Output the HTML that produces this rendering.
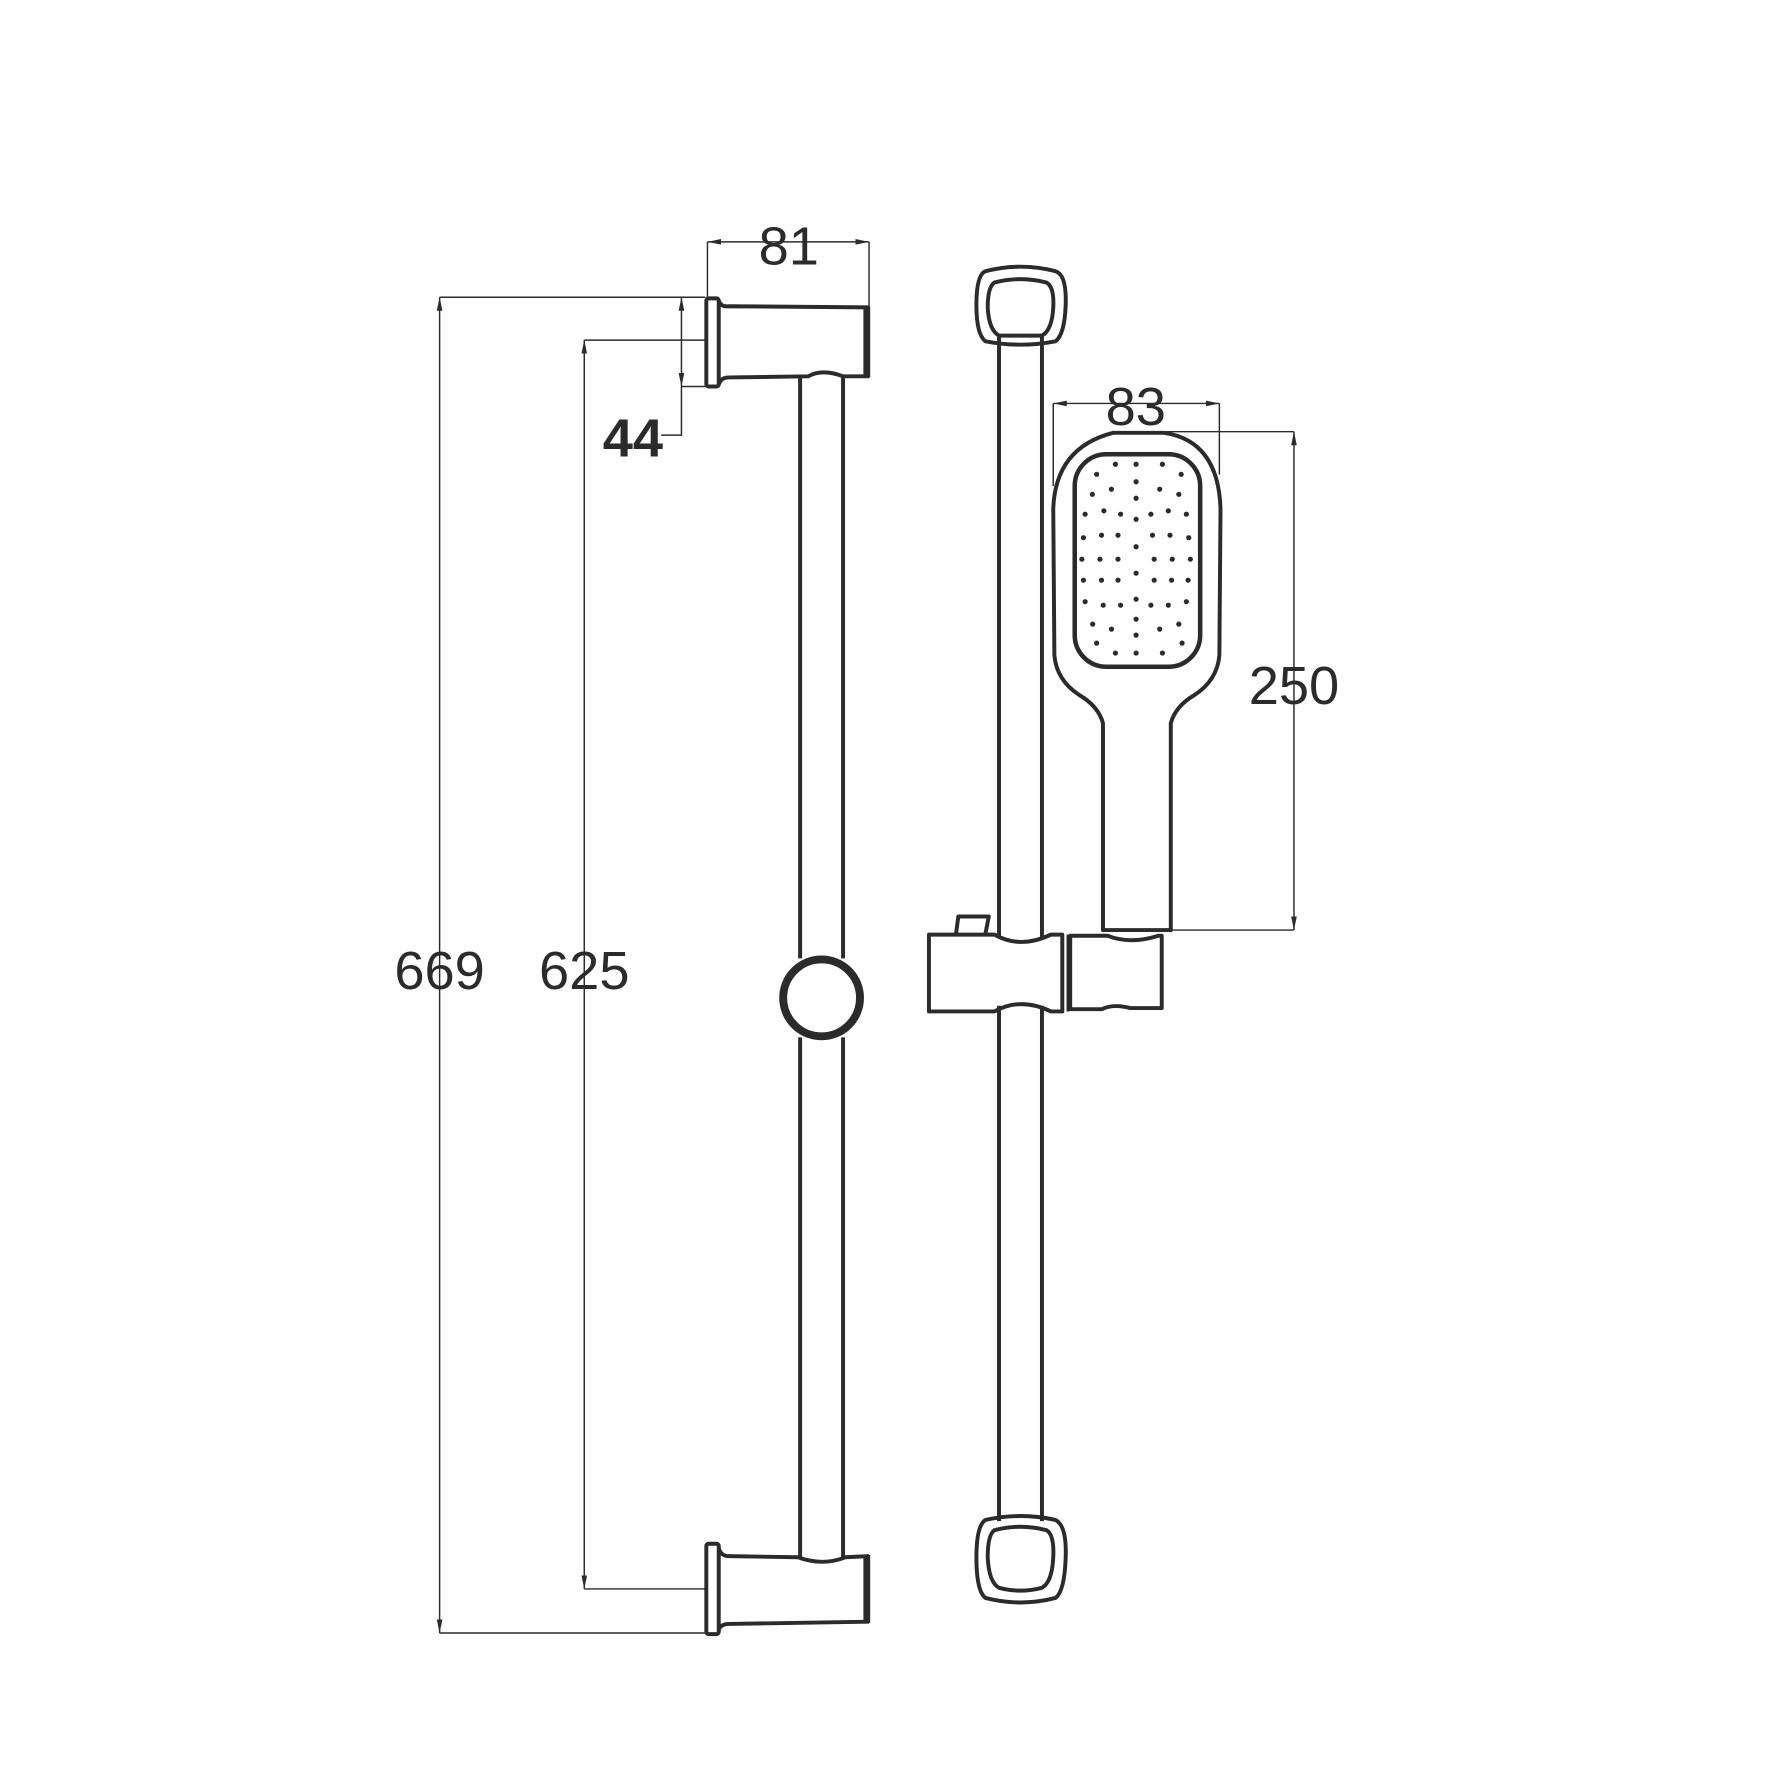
<!DOCTYPE html>
<html><head><style>html,body{margin:0;padding:0;background:#fff}svg{display:block}</style></head>
<body>
<svg width="1772" height="1772" viewBox="0 0 1568 1568" xmlns="http://www.w3.org/2000/svg">
<defs>
<marker id="a" viewBox="0 0 12 6" refX="12" refY="3" markerWidth="12" markerHeight="6" orient="auto-start-reverse" markerUnits="userSpaceOnUse"><path d="M12,3 L0,0.5 L0,5.5 Z" fill="#2b2b2b"/></marker>
</defs>
<g stroke="#2b2b2b" stroke-width="1.3" fill="none">
<line x1="389" y1="263" x2="389" y2="1445" marker-start="url(#a)" marker-end="url(#a)"/>
<line x1="389" y1="263" x2="624" y2="263"/>
<line x1="389" y1="1445" x2="624" y2="1445"/>
<line x1="517" y1="301" x2="517" y2="1406" marker-start="url(#a)" marker-end="url(#a)"/>
<line x1="517" y1="301" x2="624" y2="301"/>
<line x1="517" y1="1406" x2="624" y2="1406"/>
<line x1="603" y1="263" x2="603" y2="342" marker-start="url(#a)" marker-end="url(#a)"/>
<polyline points="603,342 603,385 585,385"/>
<line x1="603" y1="342" x2="624" y2="342"/>
<line x1="626" y1="214" x2="769" y2="214" marker-start="url(#a)" marker-end="url(#a)"/>
<line x1="626" y1="214" x2="626" y2="263"/>
<line x1="769" y1="214" x2="769" y2="271"/>
<line x1="932" y1="357" x2="1079" y2="357" marker-start="url(#a)" marker-end="url(#a)"/>
<line x1="932" y1="357" x2="932" y2="430"/>
<line x1="1079" y1="357" x2="1079" y2="420"/>
<line x1="1145" y1="382" x2="1145" y2="823" marker-start="url(#a)" marker-end="url(#a)"/>
<line x1="1030" y1="382" x2="1145" y2="382"/>
<line x1="1036" y1="823" x2="1145" y2="823"/>
</g>
<g stroke="#2b2b2b" stroke-width="3.5" fill="none" stroke-linejoin="round">
<rect x="625" y="264" width="11" height="78" rx="2"/>
<path d="M636,266 Q638,272 645,271 L769,272"/>
<path d="M636,340 Q638,334 645,334 L715,333 Q728,326 746,333 L769,333"/>
<line x1="767" y1="271" x2="767" y2="334" stroke-width="6"/>
<line x1="708" y1="334" x2="708" y2="848"/>
<line x1="746" y1="334" x2="746" y2="848"/>
<line x1="708" y1="918" x2="708" y2="1378"/>
<line x1="746" y1="918" x2="746" y2="1378"/>
<circle cx="727" cy="883" r="34" stroke-width="7"/>
<rect x="625" y="1366" width="11" height="80" rx="2"/>
<path d="M636,1370 Q638,1377 645,1377 L706,1378 Q728,1386 748,1378 L769,1377"/>
<path d="M636,1442 Q638,1437 645,1437 L769,1435"/>
<line x1="767" y1="1376" x2="767" y2="1436" stroke-width="6"/>
<path d="M872,240 Q903,232 934,240 Q944,243 943,270 Q942,296 934,302 Q903,308 872,302 Q864,296 864,270 Q864,243 872,240 Z"/>
<path d="M880,250 Q903,244 926,250 Q933,254 932,272 Q931,292 922,297 L884,297 Q875,292 874,272 Q874,254 880,250 Z"/>
<path d="M872,1345 Q903,1338 934,1345 Q944,1350 943,1378 Q942,1408 934,1414 Q903,1422 872,1414 Q864,1408 864,1378 Q864,1350 872,1345 Z"/>
<path d="M880,1354 Q903,1348 926,1354 Q933,1358 932,1378 Q931,1400 922,1405 Q903,1410 884,1405 Q875,1400 874,1378 Q874,1358 880,1354 Z"/>
<line x1="884" y1="298" x2="884" y2="830"/>
<line x1="922" y1="298" x2="922" y2="830"/>
<line x1="884" y1="890" x2="884" y2="1346"/>
<line x1="922" y1="890" x2="922" y2="1346"/>
<path d="M822,827 L880,827 Q903,840 930,827 L940,827 L940,895 L930,895 Q903,882 880,895 L822,895 Z"/>
<path d="M846,826 L848,811 L875,811 L872,826"/>
<line x1="945" y1="827" x2="945" y2="895" stroke-width="2.5"/>
<path d="M947,828 L980,828 Q1000,836 1025,828 L1028,828 L1028,892 L1000,892 Q985,888 975,893 L947,893 Z"/>
<path d="M976,823 L976,640 Q972,625 955,615 Q935,602 933,580 L932,450 Q934,396 985,383 L1030,383 Q1078,390 1080,450 L1079,580 Q1077,602 1057,615 Q1040,625 1036,640 L1036,823 Z"/>
<rect x="951" y="402" width="111" height="188" rx="28" stroke-width="4"/>
</g>
<g fill="#2b2b2b">
<circle cx="987" cy="410.8" r="2.3"/><circle cx="1005.3" cy="410.8" r="2.3"/><circle cx="1028.6" cy="410.8" r="2.3"/>
<circle cx="970.4" cy="419.7" r="2.3"/><circle cx="1045.2" cy="419.7" r="2.3"/>
<circle cx="1005.3" cy="426.3" r="2.3"/>
<circle cx="983.5" cy="432.9" r="2.3"/><circle cx="1026.2" cy="432.9" r="2.3"/>
<circle cx="966.6" cy="437.4" r="2.3"/><circle cx="1043.1" cy="437.4" r="2.3"/>
<circle cx="1005.3" cy="440.9" r="2.3"/>
<circle cx="976.8" cy="452" r="2.3"/><circle cx="1033.8" cy="452" r="2.3"/>
<circle cx="960.2" cy="455" r="2.3"/><circle cx="991.6" cy="455" r="2.3"/><circle cx="1018.4" cy="455" r="2.3"/><circle cx="1049.8" cy="455" r="2.3"/>
<circle cx="1005.3" cy="459.5" r="2.3"/>
<circle cx="974.7" cy="473.6" r="2.3"/><circle cx="989.3" cy="473.6" r="2.3"/><circle cx="1019.8" cy="473.6" r="2.3"/><circle cx="1035.3" cy="473.6" r="2.3"/>
<circle cx="958.7" cy="475.8" r="2.3"/><circle cx="1051.9" cy="475.8" r="2.3"/>
<circle cx="1005.3" cy="483.8" r="2.3"/>
<circle cx="957.3" cy="494.8" r="2.3"/><circle cx="973.3" cy="494.8" r="2.3"/><circle cx="989.3" cy="494.8" r="2.3"/><circle cx="1021.3" cy="494.8" r="2.3"/><circle cx="1037.3" cy="494.8" r="2.3"/><circle cx="1053.3" cy="494.8" r="2.3"/>
<circle cx="1005.3" cy="507.2" r="2.3"/>
<circle cx="958.7" cy="513.4" r="2.3"/><circle cx="974.7" cy="513.4" r="2.3"/><circle cx="989.3" cy="513.4" r="2.3"/><circle cx="1021.3" cy="513.4" r="2.3"/><circle cx="1036.7" cy="513.4" r="2.3"/><circle cx="1051.3" cy="513.4" r="2.3"/>
<circle cx="1005.3" cy="530.2" r="2.3"/>
<circle cx="960.2" cy="532.4" r="2.3"/><circle cx="1049.8" cy="532.4" r="2.3"/>
<circle cx="976.2" cy="535.5" r="2.3"/><circle cx="991.6" cy="535.5" r="2.3"/><circle cx="1018.4" cy="535.5" r="2.3"/><circle cx="1033.8" cy="535.5" r="2.3"/>
<circle cx="1005.3" cy="547.9" r="2.3"/>
<circle cx="966.9" cy="552.3" r="2.3"/><circle cx="1043.1" cy="552.3" r="2.3"/>
<circle cx="983.5" cy="556.7" r="2.3"/><circle cx="1026.2" cy="556.7" r="2.3"/>
<circle cx="1005.3" cy="562" r="2.3"/>
<circle cx="970.4" cy="569.1" r="2.3"/><circle cx="1046" cy="569.1" r="2.3"/>
<circle cx="987" cy="577.9" r="2.3"/><circle cx="1005.3" cy="577.9" r="2.3"/><circle cx="1028.6" cy="577.9" r="2.3"/>
</g>
<g font-family="Liberation Sans, sans-serif" fill="#2b2b2b" text-anchor="middle" font-size="48">
<text x="698" y="234">81</text>
<text x="560" y="404" font-weight="bold">44</text>
<text x="389" y="875">669</text>
<text x="517" y="875">625</text>
<text x="1005" y="376">83</text>
<text x="1145" y="623">250</text>
</g>
</svg>
</body></html>
